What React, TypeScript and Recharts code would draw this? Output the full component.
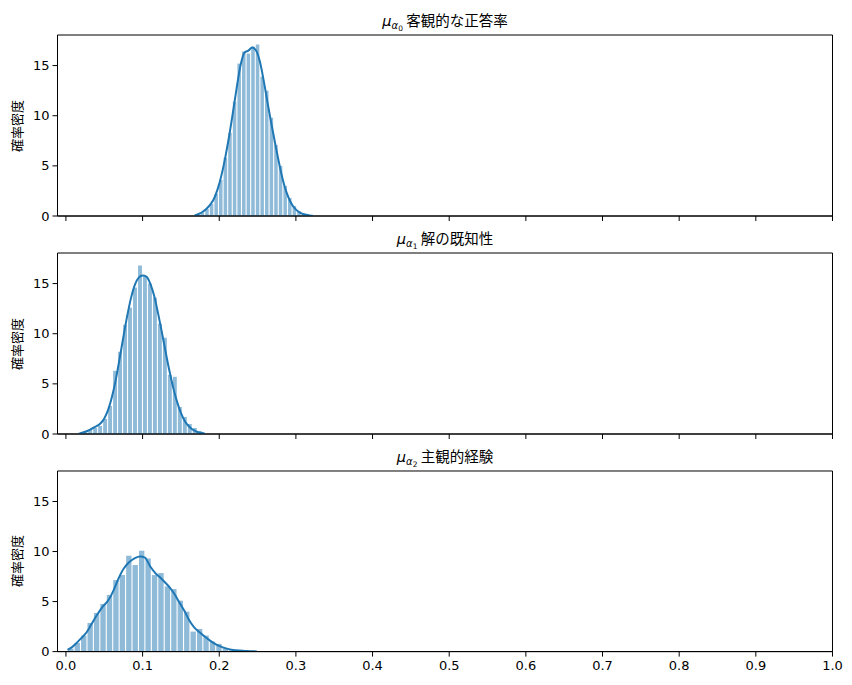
import { ComposedChart, Bar, Line, XAxis, YAxis, ReferenceArea } from "recharts";

const X_TICKS = [0, 0.1, 0.2, 0.3, 0.4, 0.5, 0.6, 0.7, 0.8, 0.9, 1.0];
const Y_TICKS = [0, 5, 10, 15];
const X_MIN = -0.011;
const X_MAX = 1.0;
const Y_MAX = 18.05;

const TITLES = ["客観的な正答率", "解の既知性", "主観的経験"];
const SUBSCRIPTS = ["0", "1", "2"];
const Y_LABEL = "確率密度";

// mu_alpha0
const BIN_W0 = 0.006;
const binX0 = [0.172, 0.178, 0.184, 0.19, 0.196, 0.202, 0.208, 0.214, 0.22, 0.226, 0.232, 0.238,
  0.244, 0.25, 0.256, 0.262, 0.268, 0.274, 0.28, 0.286, 0.292, 0.298, 0.304, 0.31];
const binY0 = [0.15, 0.35, 0.7, 1.2, 2.2, 3.6, 5.8, 8.3, 11.4, 15.2, 16.4, 16.2,
  16.9, 17.1, 13.9, 12.5, 9.8, 7.1, 5.0, 3.0, 1.8, 1.0, 0.5, 0.25];
const kdeX0 = [0.168, 0.173, 0.178, 0.183, 0.188, 0.193, 0.198, 0.203, 0.208, 0.213, 0.218, 0.223,
  0.228, 0.233, 0.238, 0.243, 0.248, 0.253, 0.258, 0.263, 0.268, 0.273, 0.278, 0.283, 0.288, 0.293,
  0.298, 0.303, 0.308, 0.313, 0.318, 0.322];
const kdeY0 = [0.05, 0.2, 0.4, 0.7, 1.1, 1.7, 2.7, 4.1, 5.9, 8.0, 10.4, 12.9,
  15.1, 16.3, 16.5, 16.8, 16.5, 15.4, 13.5, 11.3, 9.2, 7.2, 5.3, 3.6, 2.3, 1.4,
  0.8, 0.45, 0.24, 0.12, 0.05, 0.02];

// mu_alpha1
const BIN_W1 = 0.0065;
const binX1 = [0.0186, 0.0251, 0.0316, 0.0381, 0.0446, 0.0511, 0.0576, 0.0641, 0.0706, 0.0771,
  0.0836, 0.0901, 0.0966, 0.1031, 0.1096, 0.1161, 0.1226, 0.1291, 0.1356, 0.1421, 0.1486, 0.1551,
  0.1616, 0.1681, 0.1746];
const binY1 = [0.15, 0.25, 0.4, 0.6, 0.8, 1.5, 2.8, 6.3, 8.2, 10.9,
  12.6, 14.6, 16.8, 15.7, 15.0, 13.6, 11.0, 9.6, 5.9, 5.7, 2.7, 1.7,
  1.0, 0.6, 0.3];
const kdeX1 = [0.018, 0.025, 0.031, 0.038, 0.045, 0.05, 0.055, 0.06, 0.065, 0.07, 0.075, 0.08,
  0.085, 0.09, 0.095, 0.1, 0.105, 0.11, 0.115, 0.12, 0.125, 0.13, 0.135, 0.14, 0.145, 0.15,
  0.155, 0.16, 0.165, 0.17, 0.175, 0.181];
const kdeY1 = [0.05, 0.22, 0.42, 0.7, 1.05, 1.55, 2.4, 3.7, 5.4, 7.5, 9.7, 11.8,
  13.6, 14.9, 15.6, 15.8, 15.7, 15.0, 13.8, 12.1, 10.2, 8.2, 6.3, 4.6, 3.2, 2.1,
  1.3, 0.8, 0.45, 0.25, 0.12, 0.05];

// mu_alpha2
const BIN_W2 = 0.0084;
const binX2 = [0.0064, 0.0148, 0.0232, 0.0316, 0.04, 0.0484, 0.0568, 0.0652, 0.0736, 0.082,
  0.0904, 0.0988, 0.1072, 0.1156, 0.124, 0.1324, 0.1408, 0.1492, 0.1576, 0.166, 0.1744, 0.1828,
  0.1912, 0.1996, 0.208, 0.2164, 0.2248, 0.2332, 0.2416];
const binY2 = [0.3, 0.87, 1.6, 2.86, 3.86, 4.76, 5.66, 7.15, 7.65, 9.58,
  8.65, 10.08, 9.31, 7.65, 7.85, 6.52, 6.25, 5.09, 3.99, 2.0, 2.26, 1.6,
  1.0, 0.77, 0.33, 0.2, 0.12, 0.06, 0.03];
const kdeX2 = [0.002, 0.008, 0.014, 0.02, 0.027, 0.033, 0.04, 0.047, 0.055, 0.062, 0.068, 0.075,
  0.082, 0.09, 0.097, 0.103, 0.11, 0.116, 0.123, 0.13, 0.136, 0.142, 0.148, 0.155, 0.161, 0.167,
  0.174, 0.181, 0.188, 0.195, 0.202, 0.21, 0.218, 0.227, 0.236, 0.249];
const kdeY2 = [0.17, 0.45, 0.87, 1.35, 1.93, 2.7, 3.6, 4.4, 5.1, 6.1, 7.2, 8.25,
  8.9, 9.35, 9.5, 9.4, 8.5, 7.9, 7.4, 6.85, 6.35, 5.7, 4.9, 4.0, 3.1, 2.45,
  1.95, 1.5, 1.1, 0.75, 0.5, 0.3, 0.17, 0.1, 0.06, 0.02];

const PANELS = [
  { binX: binX0, binY: binY0, kdeX: kdeX0, kdeY: kdeY0, binW: BIN_W0, top: 0, plotH: 181, labels: false },
  { binX: binX1, binY: binY1, kdeX: kdeX1, kdeY: kdeY1, binW: BIN_W1, top: 218.3, plotH: 181, labels: false },
  { binX: binX2, binY: binY2, kdeX: kdeX2, kdeY: kdeY2, binW: BIN_W2, top: 435.7, plotH: 180.6, labels: true },
];

const BLUE = "#1f77b4";
const PLOT_LEFT = 57.5;
const PLOT_W = 775;
const MARGIN_TOP = 35;
const AXIS_H = 30;
const TICK_FONT = { fontSize: 13, fill: "#000", fontFamily: "DejaVu Sans" };
const CJK = '"Noto Sans CJK JP", sans-serif';

// histogram bar: centred on the bin centre that recharts places, width from the bin width
function binShape(barW: number) {
  return (props: any) => {
    const { x, y, width, height } = props;
    if (height == null || height <= 0) return <g />;
    const cx = x + width / 2;
    return <rect x={cx - barW / 2} y={y} width={barW} height={height} fill={BLUE} fillOpacity={0.5} />;
  };
}

function Panel({ p, i }: { p: (typeof PANELS)[number]; i: number }) {
  const hist = p.binX.map((x, k) => ({ x, h: p.binY[k] }));
  const kde = p.kdeX.map((x, k) => ({ x, y: p.kdeY[k] }));
  const barW = (p.binW / (X_MAX - X_MIN)) * PLOT_W - 1.1;
  const height = MARGIN_TOP + p.plotH + AXIS_H;
  return (
    <div style={{ position: "absolute", left: 0, top: p.top }}>
      <ComposedChart
        width={852}
        height={height}
        data={hist}
        margin={{ top: MARGIN_TOP, right: 852 - PLOT_LEFT - PLOT_W, bottom: 0, left: 0 }}
      >
        <XAxis
          dataKey="x"
          type="number"
          domain={[X_MIN, X_MAX]}
          allowDataOverflow
          ticks={X_TICKS}
          interval={0}
          height={AXIS_H}
          stroke="#000"
          tickSize={5}
          tickMargin={4}
          tick={TICK_FONT}
          tickFormatter={(v: number) => (p.labels ? v.toFixed(1) : "")}
        />
        <YAxis
          type="number"
          domain={[0, Y_MAX]}
          allowDataOverflow
          ticks={Y_TICKS}
          interval={0}
          width={PLOT_LEFT}
          stroke="#000"
          tickSize={5}
          tickMargin={3}
          tick={TICK_FONT}
        />
        <Bar dataKey="h" fill={BLUE} fillOpacity={0.5} shape={binShape(barW)} isAnimationActive={false} />
        <Line
          data={kde}
          dataKey="y"
          type="monotone"
          stroke={BLUE}
          strokeWidth={2}
          dot={false}
          activeDot={false}
          isAnimationActive={false}
        />
        <ReferenceArea
          x1={X_MIN}
          x2={X_MAX}
          y1={0}
          y2={Y_MAX}
          fill="none"
          fillOpacity={0}
          stroke="#000"
          strokeWidth={1}
          ifOverflow="visible"
        />
      </ComposedChart>
      <div
        style={{
          position: "absolute",
          left: PLOT_LEFT,
          width: PLOT_W,
          top: MARGIN_TOP - 24,
          textAlign: "center",
          fontSize: 14.5,
          lineHeight: "18px",
          fontFamily: CJK,
          whiteSpace: "nowrap",
        }}
      >
        <span style={{ fontFamily: "DejaVu Sans", fontStyle: "italic" }}>μ</span>
        <span style={{ fontFamily: "DejaVu Sans", fontStyle: "italic", fontSize: 10, position: "relative", top: 3 }}>α</span>
        <span style={{ fontFamily: "DejaVu Sans", fontSize: 7.5, position: "relative", top: 5 }}>{SUBSCRIPTS[i]}</span>
        {" "}
        {TITLES[i]}
      </div>
      <div
        style={{
          position: "absolute",
          left: 15.5,
          top: MARGIN_TOP + p.plotH / 2,
          transform: "translate(-50%, -50%) rotate(-90deg)",
          fontSize: 13,
          fontFamily: CJK,
          whiteSpace: "nowrap",
        }}
      >
        {Y_LABEL}
      </div>
    </div>
  );
}

export default function App() {
  return (
    <div style={{ position: "absolute", left: 0, top: 0, width: 852, height: 685, background: "#fff" }}>
      {PANELS.map((p, i) => (
        <Panel key={i} p={p} i={i} />
      ))}
    </div>
  );
}
